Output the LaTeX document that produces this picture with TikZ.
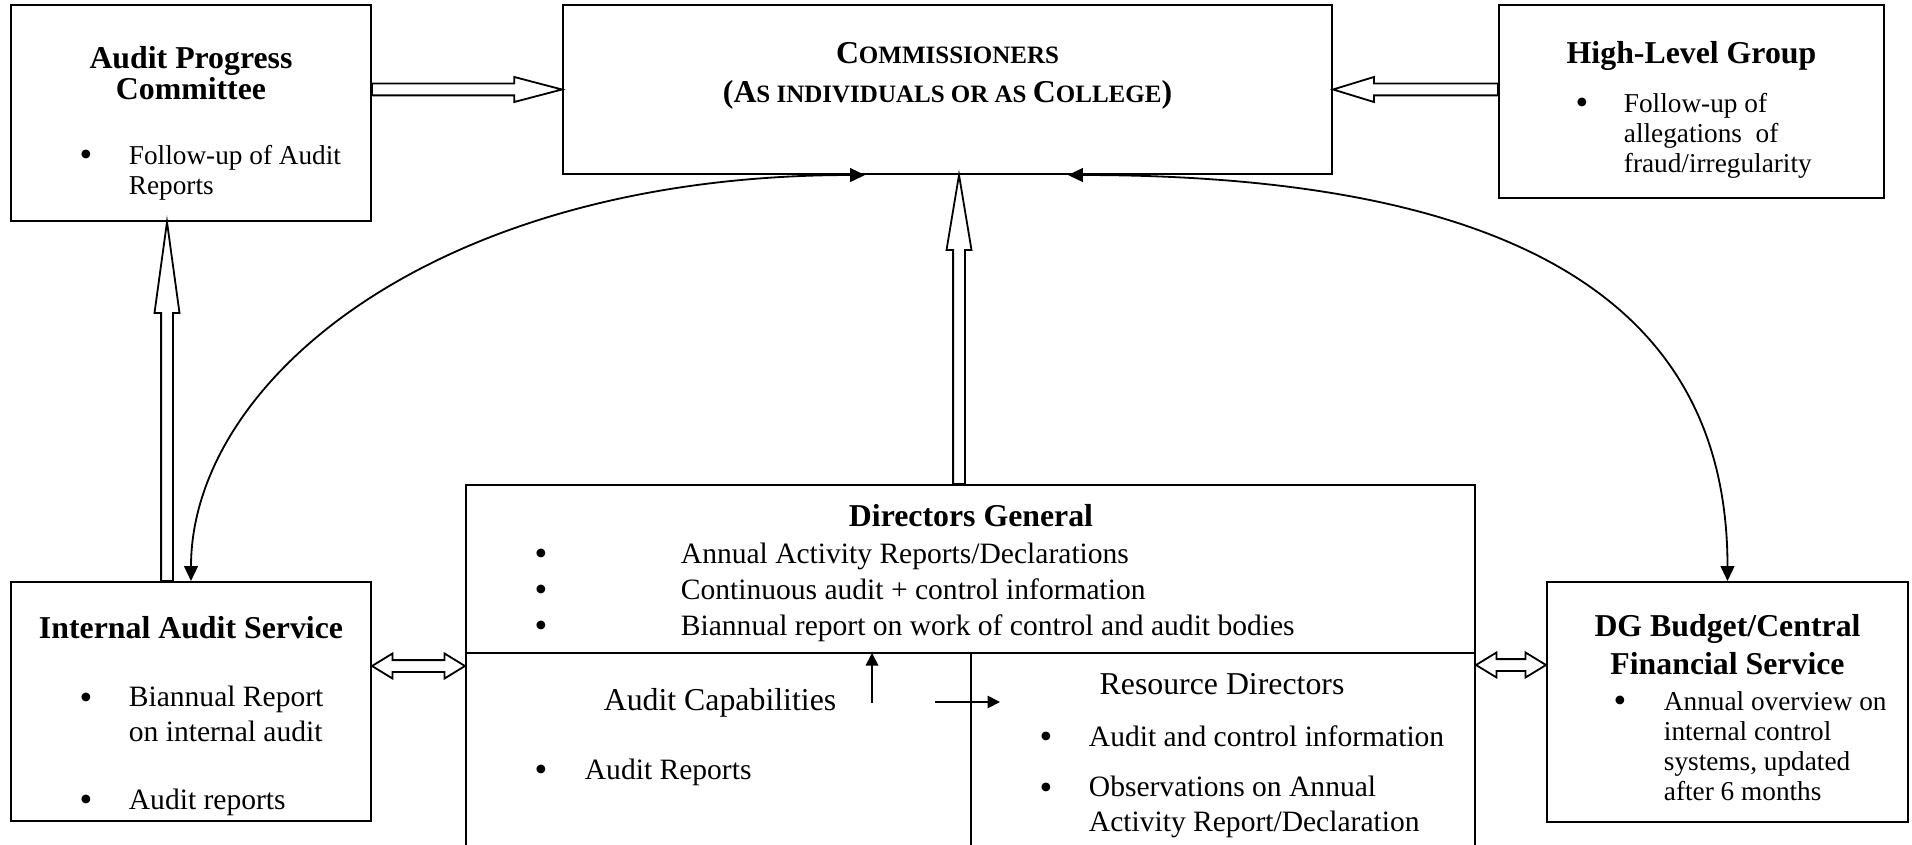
\documentclass[tikz,border=0pt]{standalone}
\usepackage{fontspec}
\setmainfont{Liberation Serif}
\usetikzlibrary{arrows.meta,calc,fit}
\tikzset{every picture/.style={line width=0.8pt}}

% fake small caps: large first letter, smaller rest
\newcommand{\fsc}[2]{#1{\fontsize{11}{13}\selectfont #2}}
% hollow block arrow: start, tip, head length
\newcommand{\fatarrow}[3]{%
  \coordinate (fh) at ($#2!#3!#1$);
  \draw[fat] ($#1!2.6pt!90:#2$) -- ($(fh)!2.6pt!90:#2$) -- ($(fh)!5.5pt!90:#2$) -- #2 -- ($(fh)!5.5pt!-90:#2$) -- ($(fh)!2.6pt!-90:#2$) -- ($#1!2.6pt!-90:#2$) -- cycle;}
% hollow block arrow with two heads: end, end, head length
\newcommand{\fatdouble}[3]{%
  \coordinate (fa) at ($#1!#3!#2$);
  \coordinate (fb) at ($#2!#3!#1$);
  \draw[fat] #1 -- ($(fa)!5.5pt!90:#2$) -- ($(fa)!2.6pt!90:#2$) -- ($(fb)!2.6pt!-90:#1$) -- ($(fb)!5.5pt!-90:#1$) -- #2 -- ($(fb)!5.5pt!90:#1$) -- ($(fb)!2.6pt!90:#1$) -- ($(fa)!2.6pt!-90:#2$) -- ($(fa)!5.5pt!-90:#2$) -- cycle;}

\begin{document}
\begin{tikzpicture}[x=0.44pt,y=-0.44pt,
  box/.style={draw, line width=0.9pt, inner sep=0pt},
  head/.style={inner sep=0pt, anchor=base, align=center, font=\fontsize{14}{16}\selectfont\bfseries},
  subhead/.style={inner sep=0pt, anchor=base, font=\fontsize{14}{16}\selectfont},
  itemtxt/.style={inner sep=0pt, anchor=base west, align=left, font=\fontsize{12}{13.2}\selectfont},
  bigtxt/.style={itemtxt, font=\fontsize{13}{15}\selectfont},
  bul/.style={inner sep=0pt, anchor=base, align=center, font=\fontsize{16}{18}\selectfont},
  fat/.style={draw, line width=0.8pt, fill=white, line join=miter},
  twoway/.style={{Triangle[length=6.5pt,width=6pt]}-{Triangle[length=6.5pt,width=6pt]}},
  oneway/.style={-{Triangle[length=5.5pt,width=5.5pt]}}]
\useasboundingbox (0,0) rectangle (1912,845);

%Shape: Rectangle [boxes]
\node[box, fit={(11,5) (371,221)}] (apc) {};
\node[box, fit={(563,5) (1332,174)}] (comm) {};
\node[box, fit={(1499,5) (1884,198)}] (hlg) {};
\node[box, fit={(11,582) (371,821)}] (ias) {};
\node[box, fit={(466,485) (1475,848)}] (dg) {};
\node[box, fit={(1547,582) (1908,822)}] (dgb) {};
%Straight Lines [dividers of the DG box]
\coordinate (split) at (971,653);
\draw[line width=0.9pt] (split -| dg.west) -- (split -| dg.east);
\draw[line width=0.9pt] (split) -- (split |- dg.south);

%Block arrows
\coordinate (a1) at (apc.east |- comm.west);
\fatarrow{(a1)}{(comm.west)}{21pt}
\coordinate (a2) at (hlg.west |- comm.east);
\fatarrow{(a2)}{(comm.east)}{18pt}
\coordinate (a3) at ($(ias.north)+(-24,0)$);
\coordinate (a4) at (a3 |- apc.south);
\fatarrow{(a3)}{(a4)}{40pt}
\coordinate (a5) at ($(dg.north)+(-11.5,0)$);
\coordinate (a6) at (a5 |- comm.south);
\fatarrow{(a5)}{(a6)}{33pt}
\coordinate (a7) at ($(ias.east)+(0,-35.5)$);
\coordinate (a8) at (a7 -| dg.west);
\fatdouble{(a7)}{(a8)}{9pt}
\coordinate (a9) at (dg.east |- 0,665);
\coordinate (a10) at (a9 -| dgb.west);
\fatdouble{(a9)}{(a10)}{9pt}

%Curve Lines
\coordinate (c1) at ($(comm.south)+(-82.5,0)$);
\coordinate (c2) at ($(comm.south)+(120.5,0)$);
\draw[twoway] (c1) .. controls +(-430,0) and +(0,-200) .. (ias.north);
\draw[twoway] (c2) .. controls +(520,0) and +(0,-230) .. (dgb.north);

%Small arrows inside the DG box
\coordinate (s1) at (872,703);
\draw[oneway] (s1) -- (s1 |- split);
\coordinate (s2) at (935,702);
\coordinate (s3) at (1000,702);
\draw[oneway] (s2) -- (s3);

% Text Node (multi-line nodes sit on the baseline of their last line)
\node[head, font=\fontsize{14}{12.8}\selectfont\bfseries] (apct) at (191,100) {Audit Progress\\Committee};
\node[bul] (apcb) at (86,167) {\textbullet};
\node[itemtxt] (apci) at (128,195) {Follow-up of Audit\\Reports};
% Text Node
\node[head, font=\fontsize{14}{17.2}\selectfont\bfseries] (commt) at (947.5,103) {\fsc{C}{OMMISSIONERS}\\(\fsc{A}{S INDIVIDUALS OR AS }\fsc{C}{OLLEGE})};
% Text Node
\node[head] (hlgt) at (1691.5,64) {High-Level Group};
\node[bul] (hlgb) at (1582,115) {\textbullet};
\node[itemtxt] (hlgi) at (1623,173) {Follow-up of\\allegations\ \ of\\fraud/irregularity};
% Text Node
\node[head] (iast) at (191,638) {Internal Audit Service};
\node[bul] (iasb1) at (86,709) {\textbullet};
\node[bigtxt] (iasi1) at (128,741) {Biannual Report\\on internal audit};
\node[bul] (iasb2) at (86,811) {\textbullet};
\node[bigtxt] (iasi2) at (128,809) {Audit reports};
% Text Node
\node[head, font=\fontsize{14}{16.3}\selectfont\bfseries] (dgbt) at (1727.5,674) {DG Budget/Central\\Financial Service};
\node[bul] (dgbb) at (1620,712) {\textbullet};
\node[itemtxt] (dgbi) at (1663,800) {Annual overview on\\internal control\\systems, updated\\after 6 months};
% Text Node
\node[head] (dgt) at (971,526) {Directors General};
\node[bul, font=\fontsize{16}{15.8}\selectfont] (dgb) at (541,637) {\textbullet\\\textbullet\\\textbullet};
\node[bigtxt, font=\fontsize{13}{15.8}\selectfont] (dgi) at (680,635) {Annual Activity Reports/Declarations\\Continuous audit + control information\\Biannual report on work of control and audit bodies};
% Text Node
\node[subhead] (capt) at (720,710) {Audit Capabilities};
\node[bul] (capb) at (541,781) {\textbullet};
\node[bigtxt] (capi) at (584,779) {Audit Reports};
% Text Node
\node[subhead] (rdt) at (1222,694) {Resource Directors};
\node[bul] (rdb1) at (1046,748) {\textbullet};
\node[bigtxt] (rdi1) at (1088,746) {Audit and control information};
\node[bul] (rdb2) at (1046,799) {\textbullet};
\node[bigtxt] (rdi2) at (1088,831) {Observations on Annual\\Activity Report/Declaration};

\end{tikzpicture}
\end{document}
